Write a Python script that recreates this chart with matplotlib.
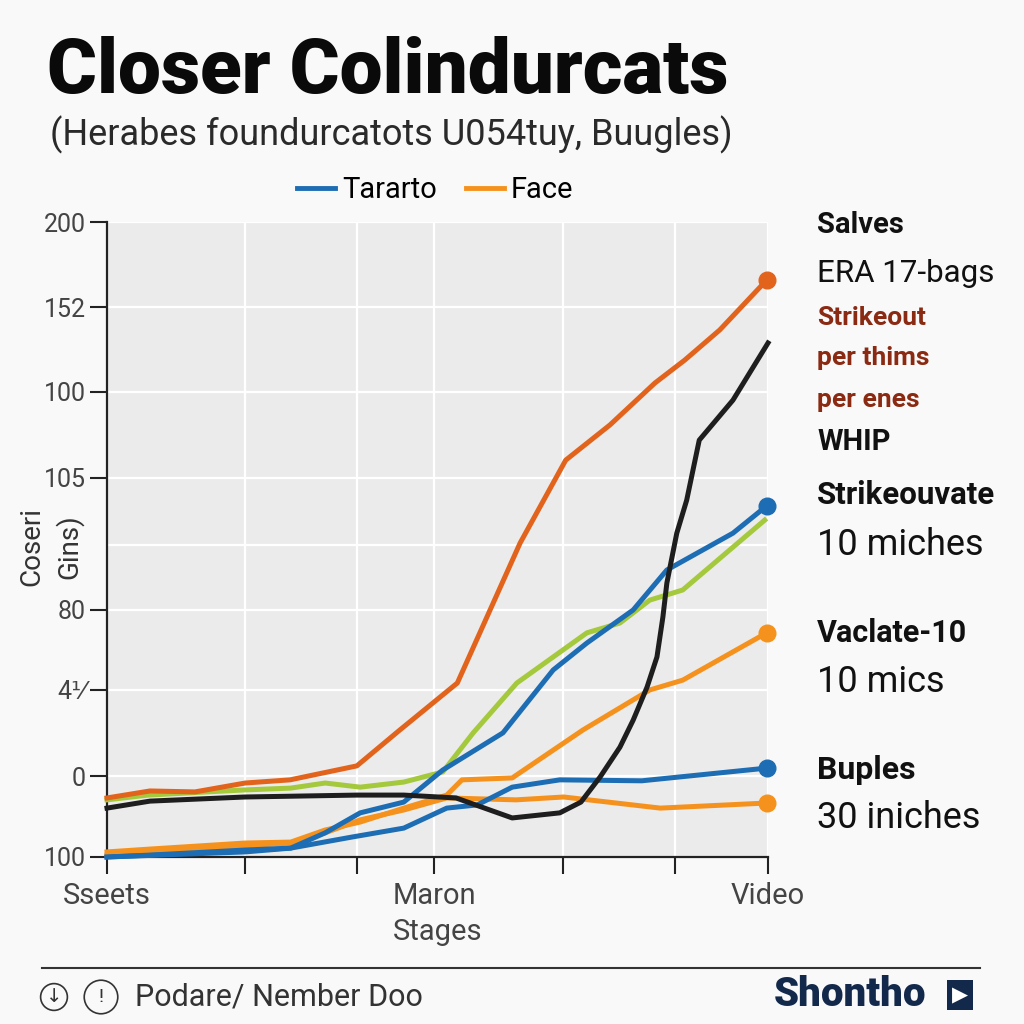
import matplotlib
matplotlib.use("Agg")
import matplotlib.pyplot as plt
from matplotlib.lines import Line2D

# ---- data (x in 0..100 along the stages, y in the plot's own 0..200 scale)
x_ticks = [0, 20.9, 37.8, 49.5, 69.0, 85.9, 100]
x_labels = ["Sseets", "", "", "Maron", "", "", "Video"]
y_ticks = [0, 25.5, 52.6, 77.8, 119.4, 146.5, 173.2, 200]
y_labels = ["100", "0", "4\u215f", "80", "105", "100", "152", "200"]

red_x = [0, 6.5, 13.3, 20.9, 27.7, 37.8, 44.3, 53.0, 62.5, 69.4, 76.1, 82.9, 87.4, 92.7, 99.8]
red_y = [18.6, 20.8, 20.5, 23.3, 24.3, 28.7, 40.0, 54.8, 98.9, 125.0, 136.1, 149.3, 156.5, 166.0, 181.7]

black_x = [0, 6.5, 20.9, 37.8, 44.9, 52.8, 61.3, 68.5, 71.7, 74.6, 77.6, 79.6, 81.7, 83.2, 84.1, 84.7, 86.2, 87.7, 89.6, 94.7, 100]
black_y = [15.4, 17.6, 18.9, 19.5, 19.5, 18.6, 12.3, 13.9, 17.3, 25.2, 34.6, 43.1, 53.5, 63.0, 75.6, 86.3, 102.0, 112.4, 131.3, 143.9, 161.9]

green_x = [0, 6.2, 20.6, 27.8, 33.0, 38.3, 44.9, 50.8, 55.4, 62.0, 72.6, 77.6, 82.1, 87.1, 99.5]
green_y = [18.0, 19.5, 21.1, 21.7, 23.3, 22.0, 23.6, 26.8, 39.1, 54.8, 70.6, 73.7, 80.9, 84.1, 106.1]

blue_up_x = [0, 6.5, 20.9, 27.8, 33.0, 38.3, 44.9, 50.8, 59.9, 67.5, 72.6, 79.6, 84.7, 94.7, 99.8]
blue_up_y = [0, 0.6, 2.2, 2.8, 7.6, 13.9, 17.3, 27.4, 39.1, 58.9, 67.4, 77.8, 90.4, 102.0, 110.6]

blue_flat_x = [0, 20.9, 27.8, 37.1, 44.9, 51.4, 56.0, 61.3, 68.5, 80.9, 99.8]
blue_flat_y = [0, 1.6, 2.8, 6.3, 9.1, 15.4, 16.4, 22.0, 24.3, 24.0, 28.0]

orange_up_x = [0, 6.5, 20.9, 27.8, 33.0, 38.3, 44.9, 51.4, 53.7, 61.3, 72.0, 82.1, 87.1, 99.8]
orange_up_y = [1.6, 2.5, 4.4, 4.7, 8.5, 11.0, 15.4, 19.5, 24.3, 24.9, 40.0, 52.6, 55.7, 70.6]

orange_flat_x = [0, 20.9, 27.8, 33.0, 38.3, 44.9, 51.4, 61.9, 69.1, 83.7, 99.8]
orange_flat_y = [0.6, 3.5, 4.4, 7.6, 11.7, 14.8, 18.6, 18.0, 18.9, 15.4, 17.0]

FONT = ["Roboto", "DejaVu Sans"]
plt.rcParams["font.family"] = FONT

fig = plt.figure(figsize=(10.24, 10.24), dpi=100, facecolor="#f9f9fa")
ax = fig.add_axes([107 / 1024, 1 - 857 / 1024, 661 / 1024, 635 / 1024])
ax.set_facecolor("#ebebeb")

lw = 3.6
ax.plot(green_x, green_y, color="#a4c93c", lw=lw, clip_on=False, zorder=3)
ax.plot(orange_flat_x, orange_flat_y, color="#f5921e", lw=lw, clip_on=False, zorder=3)
ax.plot(blue_flat_x, blue_flat_y, color="#1d6db4", lw=lw, clip_on=False, zorder=3)
ax.plot(orange_up_x, orange_up_y, color="#f5921e", lw=lw, clip_on=False, zorder=3)
ax.plot(blue_up_x, blue_up_y, color="#1d6db4", lw=lw, clip_on=False, zorder=3)
ax.plot(black_x, black_y, color="#1e1e1e", lw=lw, clip_on=False, zorder=3)
ax.plot(red_x, red_y, color="#e2631c", lw=lw, clip_on=False, zorder=3)

# end markers
ms = 12
ax.plot(red_x[-1], red_y[-1], "o", color="#e2631c", ms=ms, clip_on=False, zorder=4)
ax.plot(blue_up_x[-1], blue_up_y[-1], "o", color="#1d6db4", ms=ms, clip_on=False, zorder=4)
ax.plot(orange_up_x[-1], orange_up_y[-1], "o", color="#f5921e", ms=ms, clip_on=False, zorder=4)
ax.plot(blue_flat_x[-1], blue_flat_y[-1], "o", color="#1d6db4", ms=ms, clip_on=False, zorder=4)
ax.plot(orange_flat_x[-1], orange_flat_y[-1], "o", color="#f5921e", ms=ms, clip_on=False, zorder=4)

ax.set_xlim(0, 100)
ax.set_ylim(0, 200)
ax.set_xticks(x_ticks)
ax.set_xticklabels(x_labels, fontsize=21, color="#444444")
ax.set_yticks(y_ticks)
ax.set_yticklabels(y_labels, fontsize=18, color="#444444")
ax.set_yticks([98.3], minor=True)
ax.tick_params(axis="y", which="minor", length=0)
ax.tick_params(axis="both", which="major", length=12, width=1.5, color="#222222", direction="out")
ax.tick_params(axis="x", pad=6)
ax.grid(True, which="both", color="white", lw=1.6, zorder=0)
ax.set_axisbelow(True)
for s in ["top", "right"]:
    ax.spines[s].set_visible(False)
for s in ["left", "bottom"]:
    ax.spines[s].set_color("#222222")
    ax.spines[s].set_linewidth(1.6)

ax.set_xlabel("Stages", fontsize=21, color="#444444", labelpad=6)
fig.text(51 / 1024, 1 - 547 / 1024, "Coseri\nGins)", rotation=90, ha="center", va="center",
         fontsize=20, color="#333333", linespacing=1.4)

# titles
fig.text(47 / 1024, 1 - 72 / 1024, "Closer Colindurcats", fontweight="black",
         fontsize=55, color="#0a0a0a", ha="left", va="center")
fig.text(50 / 1024, 1 - 135 / 1024, "(Herabes foundurcatots U054tuy, Buugles)",
         fontsize=26, color="#2a2a2a", ha="left", va="center")

handles = [Line2D([], [], color="#1d6db4", lw=3.5), Line2D([], [], color="#f5921e", lw=3.5)]
fig.legend(handles, ["Tararto", "Face"], loc="center", bbox_to_anchor=(435 / 1024, 1 - 190 / 1024),
           ncol=2, frameon=False, prop={"size": 21}, handlelength=1.3,
           handletextpad=0.25, columnspacing=1.0)

# right side annotations
notes = [
    ("Salves", 225, "bold", "#111111", 21),
    ("ERA 17-bags", 273, "normal", "#111111", 22.5),
    ("Strikeout", 318, "bold", "#8a2a12", 19),
    ("per thims", 358, "bold", "#8a2a12", 19),
    ("per enes", 400, "bold", "#8a2a12", 19),
    ("WHIP", 442, "bold", "#111111", 21),
    ("Strikeouvate", 495, "bold", "#111111", 22.5),
    ("10 miches", 545, "normal", "#111111", 26),
    ("Vaclate-10", 633, "bold", "#111111", 22),
    ("10 mics", 682, "normal", "#111111", 26),
    ("Buples", 770, "bold", "#111111", 23),
    ("30 iniches", 818, "normal", "#111111", 26),
]
for txt, py, wt, col, fs in notes:
    fig.text(817 / 1024, 1 - py / 1024, txt, fontweight=wt, color=col,
             fontsize=fs, ha="left", va="center")

# footer
fig.add_artist(Line2D([42 / 1024, 980 / 1024], [1 - 968 / 1024, 1 - 968 / 1024],
                      color="#333333", lw=1.5))
fig.text(54 / 1024, 1 - 997 / 1024, "\u2193", fontsize=14, color="#333333", ha="center", va="center",
         family="DejaVu Sans",
         bbox=dict(boxstyle="circle,pad=0.2", fc="none", ec="#333333", lw=1.2))
fig.text(101 / 1024, 1 - 997 / 1024, "!", fontsize=14, color="#333333", ha="center", va="center",
         bbox=dict(boxstyle="circle,pad=0.4", fc="none", ec="#333333", lw=1.2))
fig.text(135 / 1024, 1 - 997 / 1024, "Podare/ Nember Doo", fontsize=22,
         color="#333333", ha="left", va="center")
fig.text(774 / 1024, 1 - 995 / 1024, "Shontho", fontweight="black", fontsize=29,
         color="#13294b", ha="left", va="center")
fig.text(960 / 1024, 1 - 995 / 1024, "\u25B6", fontsize=15, color="white", ha="center", va="center",
         family="DejaVu Sans",
         bbox=dict(boxstyle="square,pad=0.25", fc="#13294b", ec="none"))

fig.savefig("out.png", dpi=100, facecolor=fig.get_facecolor())
